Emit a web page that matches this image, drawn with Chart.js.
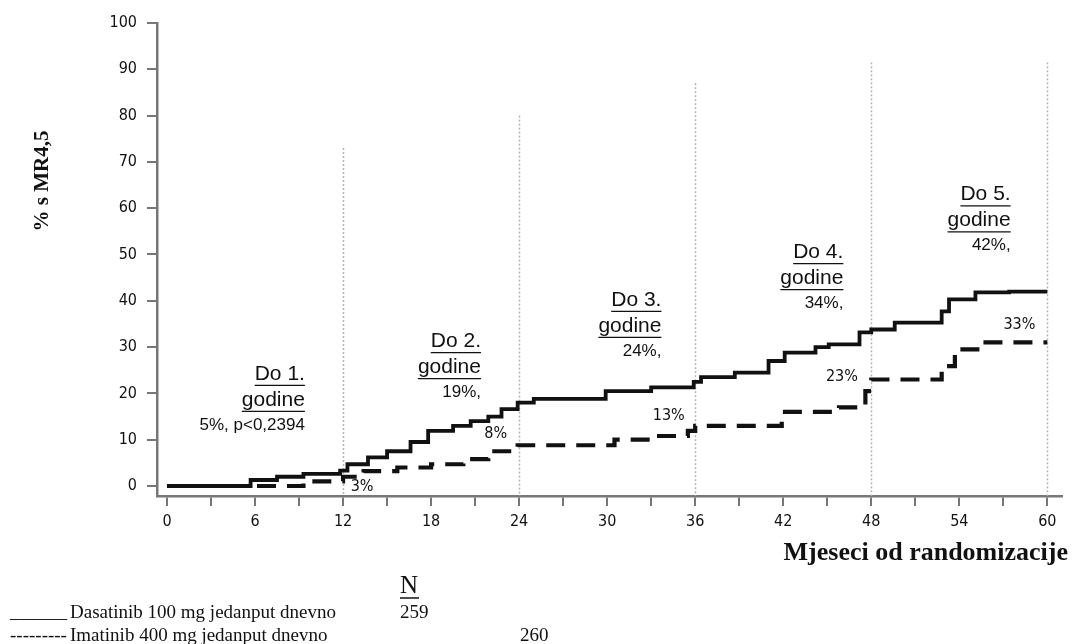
<!DOCTYPE html>
<html>
<head>
<meta charset="utf-8">
<script src="https://cdn.jsdelivr.net/npm/chart.js@4/dist/chart.umd.min.js"></script>
<style>
  html, body { margin: 0; padding: 0; background: #fff; overflow: hidden; }
  canvas { display: block; }
</style>
</head>
<body>
<canvas id="chart" width="1072" height="644"></canvas>
<script>
// months from randomization, % with MR4.5
const dasatinibMonths = [0, 5.7, 7.5, 9.3, 11.8, 12.3, 13.7, 15, 16.6, 17.8, 19.5, 20.7, 21.9, 22.8, 23.9, 25, 29.9, 33, 35.9, 36.4, 38.7, 41, 42.1, 44.2, 45.1, 47.2, 48, 49.6, 52.8, 53.3, 55.1, 57.4, 60];
const dasatinibValues = [0, 1.3, 2, 2.6, 3.3, 4.7, 6.2, 7.5, 9.5, 11.9, 13, 14, 15, 16.6, 18, 18.8, 20.5, 21.3, 22.5, 23.5, 24.5, 27, 28.8, 30, 30.6, 33.2, 33.8, 35.3, 37.7, 40.3, 41.8, 42, 42];
const imatinibMonths = [0, 7, 9.3, 12, 13.4, 15.7, 18, 20.2, 21.9, 23.9, 30.5, 33, 35.5, 36, 41.9, 45.8, 47.6, 48, 52.8, 53.7, 55.6, 60];
const imatinibValues = [0, 0, 1, 2, 3.2, 4, 4.7, 5.8, 7.5, 8.8, 10, 10.8, 11.9, 13, 16, 17, 20.5, 23, 25.9, 29.5, 31, 31];

const xTickValues = [0, 3, 6, 9, 12, 15, 18, 21, 24, 27, 30, 33, 36, 39, 42, 45, 48, 51, 54, 57, 60];
const yTickValues = [0, 10, 20, 30, 40, 50, 60, 70, 80, 90, 100];

// yearly milestones: vertical dotted markers
const yearMonths = [12, 24, 36, 48, 60];
const yearMarkerTops = [73, 80, 87, 91.5, 91.5];
const yearHeads = ["Do 1.", "Do 2.", "Do 3.", "Do 4.", "Do 5."];
const yearDasatinibText = ["5%, p<0,2394", "19%,", "24%,", "34%,", "42%,"];
const yearImatinibText = ["3%", "8%", "13%", "23%", "33%"];

// label anchors (month, %) for the annotation blocks
const headAnchorMonth = [9.4, 21.4, 33.7, 46.1, 57.5];
const headAnchorPct = [24.2, 31.3, 40.2, 50.5, 63];
const imaLabelMonth = [13.3, 22.4, 34.2, 46, 58.1];
const imaLabelPct = [-0.1, 11.2, 15.1, 23.5, 34.9];

const condensed = "'DejaVu Sans Condensed', 'Liberation Sans Narrow', 'Arial Narrow', sans-serif";
const toPoints = (xs, ys) => xs.map((x, i) => ({ x, y: ys[i] }));

const annotations = {
  id: "annotations",
  beforeDatasetsDraw(chart) {
    const { ctx, scales: { x, y } } = chart;
    ctx.save();
    ctx.strokeStyle = "#b5b5b5";
    ctx.lineWidth = 1.5;
    ctx.setLineDash([2, 2]);
    yearMonths.forEach((m, i) => {
      const px = Math.round(x.getPixelForValue(m)) + 0.5;
      ctx.beginPath();
      ctx.moveTo(px, y.getPixelForValue(yearMarkerTops[i]));
      ctx.lineTo(px, chart.chartArea.bottom);
      ctx.stroke();
    });
    ctx.restore();
  },
  afterDraw(chart) {
    const { ctx, scales: { x, y } } = chart;
    ctx.save();
    ctx.fillStyle = "#111";
    ctx.strokeStyle = "#111";
    ctx.textAlign = "right";
    ctx.textBaseline = "middle";

    yearHeads.forEach((head, i) => {
      const rx = x.getPixelForValue(headAnchorMonth[i]);
      const ty = y.getPixelForValue(headAnchorPct[i]);
      ctx.font = "21px 'Liberation Sans', Arial, sans-serif";
      [head, "godine"].forEach((t, k) => {
        const ly = ty + k * 26;
        ctx.fillText(t, rx, ly);
        const w = ctx.measureText(t).width;
        ctx.lineWidth = 1.2;
        ctx.beginPath();
        ctx.moveTo(rx - w, ly + 11.5);
        ctx.lineTo(rx, ly + 11.5);
        ctx.stroke();
      });
      ctx.font = "17px 'Liberation Sans', Arial, sans-serif";
      ctx.fillText(yearDasatinibText[i], rx, ty + 51);
    });

    ctx.textAlign = "center";
    ctx.font = "16px " + condensed;
    yearImatinibText.forEach((t, i) => {
      ctx.fillText(t, x.getPixelForValue(imaLabelMonth[i]), y.getPixelForValue(imaLabelPct[i]));
    });

    // axis titles
    ctx.font = "bold 26px 'Liberation Serif', 'Times New Roman', serif";
    ctx.textAlign = "right";
    ctx.fillText("Mjeseci od randomizacije", 1068, 553);

    ctx.save();
    ctx.translate(43, 181);
    ctx.rotate(-Math.PI / 2);
    ctx.textAlign = "center";
    ctx.font = "bold 21px 'Liberation Serif', 'Times New Roman', serif";
    ctx.fillText("% s MR4,5", 0, 0);
    ctx.restore();

    // legend block
    ctx.textAlign = "left";
    ctx.textBaseline = "alphabetic";
    ctx.font = "25px 'Liberation Serif', 'Times New Roman', serif";
    ctx.fillText("N", 400, 593);
    ctx.lineWidth = 1.5;
    ctx.beginPath();
    ctx.moveTo(400, 598);
    ctx.lineTo(419, 598);
    ctx.stroke();

    ctx.font = "19px 'Liberation Serif', 'Times New Roman', serif";
    ctx.fillText("______", 10, 618);
    ctx.fillText("Dasatinib 100 mg jedanput dnevno", 70, 618);
    ctx.fillText("259", 400, 618);
    ctx.fillText("---------", 10, 641);
    ctx.fillText("Imatinib 400 mg jedanput dnevno", 70, 641);
    ctx.fillText("260", 520, 641);
    ctx.restore();
  }
};

new Chart(document.getElementById("chart"), {
  type: "scatter",
  data: {
    datasets: [
      {
        label: "Dasatinib 100 mg jedanput dnevno",
        data: toPoints(dasatinibMonths, dasatinibValues),
        showLine: true,
        stepped: true,
        borderColor: "#111",
        borderWidth: 3.8,
        pointRadius: 0
      },
      {
        label: "Imatinib 400 mg jedanput dnevno",
        data: toPoints(imatinibMonths, imatinibValues),
        showLine: true,
        stepped: true,
        borderColor: "#111",
        borderWidth: 4.2,
        borderDash: [19, 11],
        pointRadius: 0
      }
    ]
  },
  options: {
    responsive: false,
    animation: false,
    layout: { padding: { left: 0, top: 23, right: 10, bottom: 0 } },
    plugins: { legend: { display: false }, tooltip: { enabled: false } },
    scales: {
      x: {
        type: "linear",
        min: -0.68,
        max: 61,
        afterBuildTicks: (s) => { s.ticks = xTickValues.map((v) => ({ value: v })); },
        afterFit: (s) => { s.height = 148; },
        grid: { drawOnChartArea: false, drawTicks: true, tickLength: 10, color: "#777", lineWidth: 2 },
        border: { display: true, color: "#777", width: 2.5 },
        ticks: {
          autoSkip: false,
          maxRotation: 0,
          padding: 6,
          color: "#111",
          font: { family: condensed, size: 16 },
          callback: (v) => (v % 6 === 0 ? v : "")
        }
      },
      y: {
        type: "linear",
        min: -2.16,
        max: 100,
        afterBuildTicks: (s) => { s.ticks = yTickValues.map((v) => ({ value: v })); },
        afterFit: (s) => { s.width = 157; },
        grid: { drawOnChartArea: false, drawTicks: true, tickLength: 10, color: "#777", lineWidth: 2 },
        border: { display: true, color: "#777", width: 2.5 },
        ticks: {
          padding: 10,
          color: "#111",
          font: { family: condensed, size: 16 }
        }
      }
    }
  },
  plugins: [annotations]
});
</script>
</body>
</html>
